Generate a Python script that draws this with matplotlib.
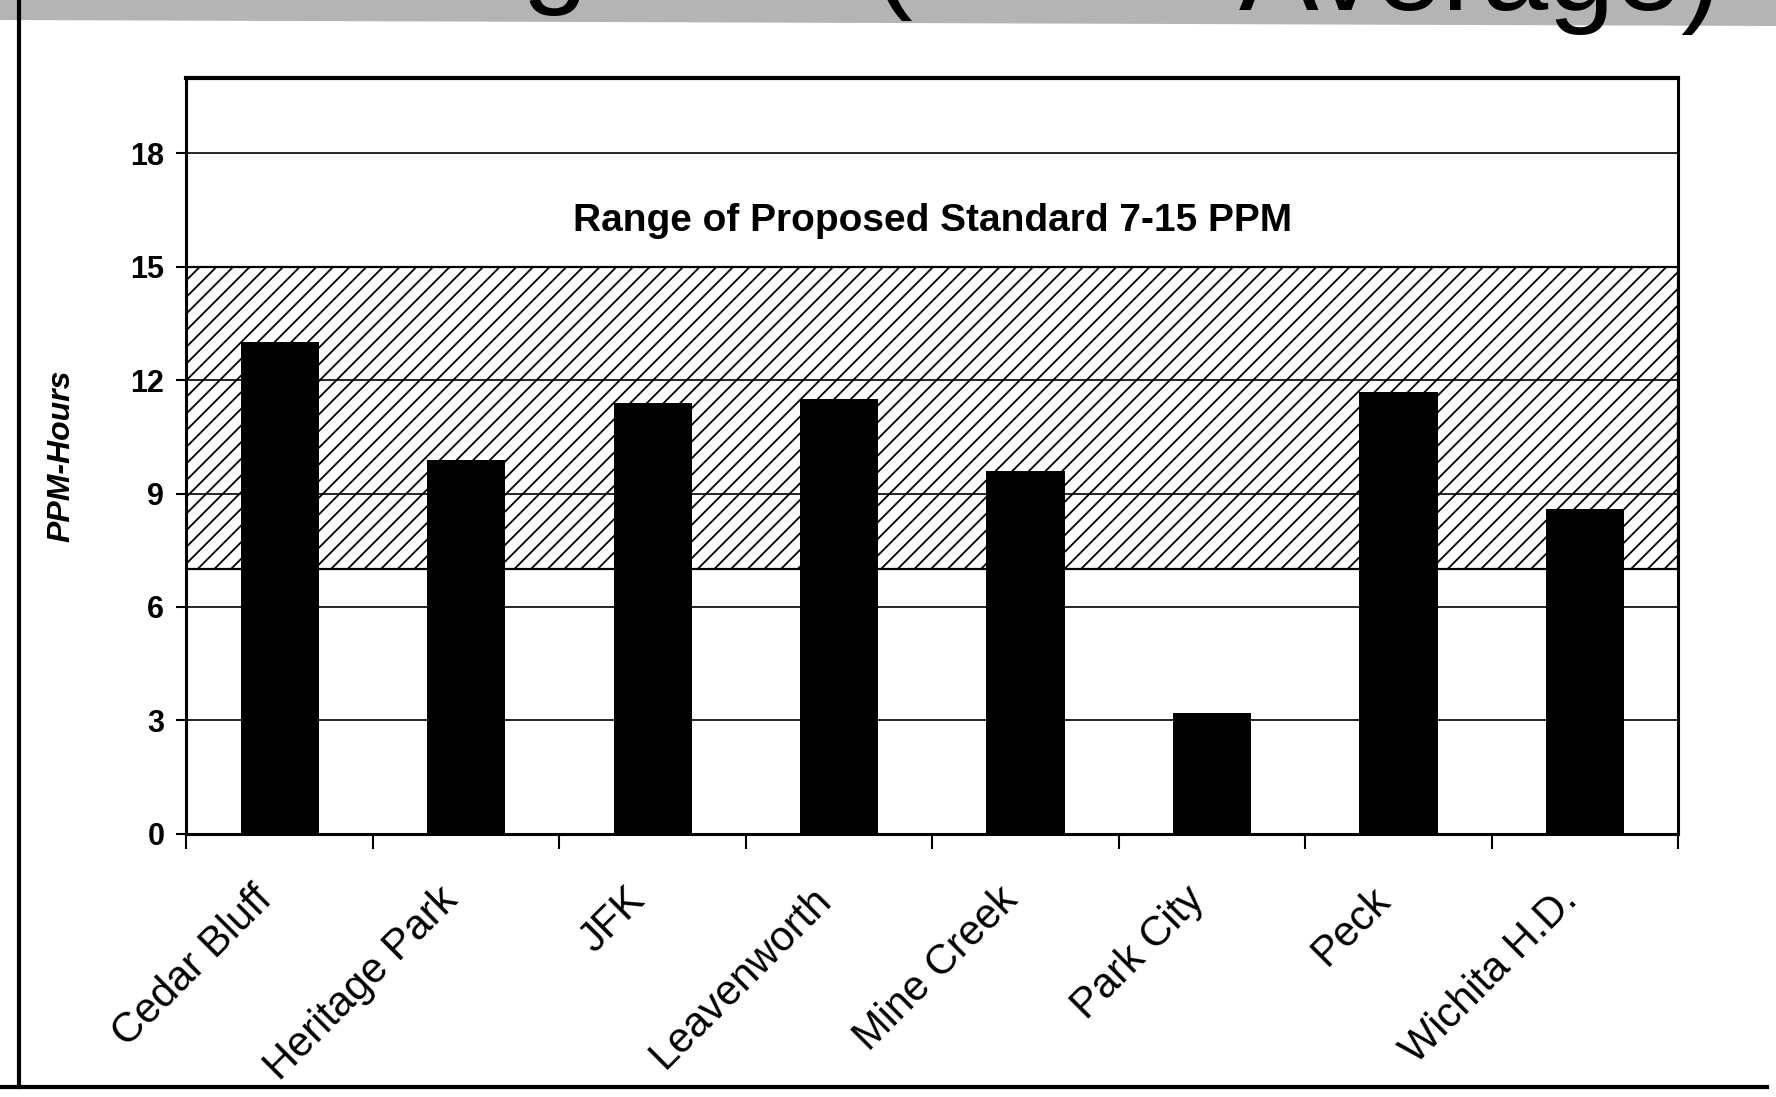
import numpy as np
import matplotlib.pyplot as plt
from matplotlib.lines import Line2D
from matplotlib.patches import Polygon

# -------------------------------
# DATA
# -------------------------------

sites = ['Cedar Bluff', 'Heritage Park', 'JFK', 'Leavenworth',
         'Mine Creek', 'Park City', 'Peck', 'Wichita H.D.']
ppm_hours = [13.0, 9.9, 11.4, 11.5, 9.6, 3.2, 11.7, 8.6]

standard_low, standard_high = 7, 15
y_ticks = [0, 3, 6, 9, 12, 15, 18]
band_label = 'Range of Proposed Standard 7-15 PPM'

# -------------------------------
# STYLE
# -------------------------------

plt.rcParams['font.family'] = ['Liberation Sans', 'DejaVu Sans']
plt.rcParams['hatch.linewidth'] = 1.3
plt.rcParams['hatch.color'] = 'black'

fig = plt.figure(figsize=(17.76, 10.97), dpi=100)
fig.patch.set_facecolor('white')

# scanned slide remains: grey title strip, partly cut title, frame
strip = Polygon([[0, 1], [1, 1], [1, 1 - 26 / 1097], [0, 1 - 20 / 1097]],
                closed=True, transform=fig.transFigure,
                facecolor='#b4b4b4', edgecolor='none', zorder=0)
fig.add_artist(strip)
fig.text(555 / 1776, 1 + 9 / 1097, 'g', fontsize=86, ha='center',
         va='baseline', color='black')
fig.text(893 / 1776, 1 + 4 / 1097, '(', fontsize=86, ha='center',
         va='baseline', color='black')
fig.text(1722 / 1776, 1 - 10 / 1097, 'Average)', fontsize=86, ha='right',
         va='baseline', color='black')
fig.add_artist(Line2D([19 / 1776, 19 / 1776], [1 - 1087 / 1097, 1],
                      transform=fig.transFigure, color='black', lw=3))
fig.add_artist(Line2D([0, 1767 / 1776], [1 - 1087 / 1097, 1 - 1087 / 1097],
                      transform=fig.transFigure, color='black', lw=3))

# -------------------------------
# CHART
# -------------------------------

ax = fig.add_axes([0.105, 0.240, 0.840, 0.689])
x = np.arange(len(sites))

ax.axhspan(standard_low, standard_high, facecolor='white', edgecolor='black',
           hatch='//', linewidth=1.6, zorder=1)
ax.bar(x, ppm_hours, width=0.42, color='black', zorder=2)

ax.set_xlim(-0.5, len(sites) - 0.5)
ax.set_ylim(0, 20)
ax.set_yticks(y_ticks)
ax.set_yticklabels([str(t) for t in y_ticks], fontsize=22, fontweight='bold')
ax.yaxis.grid(True, color='black', linewidth=1.2)
ax.tick_params(axis='y', length=7, width=1.5, pad=9)

ax.set_xticks(x)
ax.set_xticklabels(sites, rotation=45, ha='right', va='top', fontsize=30)
ax.set_xticks(np.arange(-0.5, len(sites), 1), minor=True)
ax.tick_params(axis='x', which='major', length=0, pad=33)
ax.tick_params(axis='x', which='minor', length=11, width=1.5)

for side in ['left', 'right', 'bottom']:
    ax.spines[side].set_linewidth(2.2)
ax.spines['top'].set_linewidth(3)

ax.set_ylabel('PPM-Hours', fontsize=23, fontweight='bold', fontstyle='italic')
ax.yaxis.set_label_coords(-0.074, 0.5)

ax.text((len(sites) - 1) / 2, 16.2, band_label, ha='center', va='center',
        fontsize=28, fontweight='bold', zorder=5)

fig.savefig('out.png', dpi=100)
